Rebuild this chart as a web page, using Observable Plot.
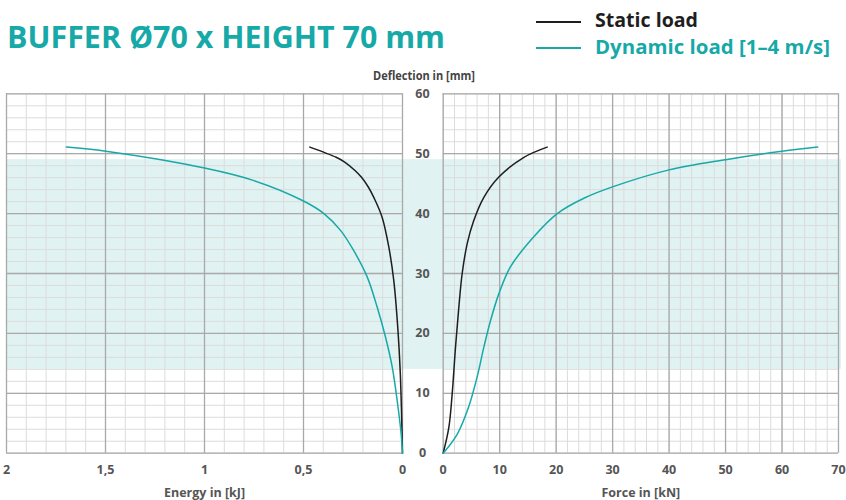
<!DOCTYPE html>
<html><head><meta charset="utf-8">
<script src="https://cdn.jsdelivr.net/npm/d3@7"></script>
<script src="https://cdn.jsdelivr.net/npm/@observablehq/plot@0.6"></script>
<style>
body{margin:0;background:#fff;font-family:"Open Sans",sans-serif}
#wrap{position:relative;width:846px;height:500px;overflow:hidden}
#wrap svg{position:absolute;top:0}
.t{position:absolute;white-space:nowrap;font-weight:700;transform-origin:0 0;line-height:1}
.lg{position:absolute;height:2px;width:45px}
</style></head><body><div id="wrap"></div>
<script>
// ---- data ----
const titleText = "BUFFER Ø70 x HEIGHT 70 mm";
const seriesNames = ["Static load", "Dynamic load [1–4 m/s]"];
const deflTicks = [0, 10, 20, 30, 40, 50, 60];
const energyTicks = [2, 1.5, 1, 0.5, 0];
const forceTicks = [0, 10, 20, 30, 40, 50, 60, 70];
const bandDefl = [14, 49];

// Static load: energy (kJ) vs deflection (mm)
const staticEnergyDefl = [0, 4.3, 13.2, 21.0, 28.8, 34.4, 39.4, 42.7, 44.4, 46.1, 47.2, 48.6, 49.4, 51.1];
const staticEnergy     = [0, 0.003, 0.011, 0.024, 0.044, 0.069, 0.103, 0.145, 0.172, 0.208, 0.240, 0.292, 0.335, 0.468];
// Dynamic load: energy vs deflection
const dynEnergyDefl = [0, 3.3, 8.8, 14.4, 19.4, 24.4, 29.4, 33.8, 37.2, 40.0, 42.1, 45.5, 47.6, 50.4, 51.1];
const dynEnergy     = [0, 0.007, 0.027, 0.052, 0.086, 0.128, 0.178, 0.246, 0.313, 0.397, 0.5, 0.75, 1.0, 1.498, 1.697];
// Static load: force (kN) vs deflection
const staticForceDefl = [0, 4.3, 9.9, 17.7, 24.4, 30.0, 35.0, 38.8, 42.7, 46.1, 49.4, 51.1];
const staticForce     = [0, 1.0, 1.59, 2.18, 2.77, 3.36, 4.25, 5.4, 7.2, 9.85, 14.3, 18.4];
// Dynamic load: force vs deflection
const dynForceDefl = [0, 3.2, 7.7, 12.7, 17.7, 22.2, 26.6, 31.1, 36.1, 40.0, 42.6, 44.5, 47.3, 49.0, 50.4, 51.1];
const dynForce     = [0, 2.5, 4.5, 6.0, 7.2, 8.4, 9.85, 11.9, 16.0, 20.2, 25.0, 30.1, 40.0, 50.0, 60.0, 66.3];

// ---- styles ----
const TEAL = "#16a9a8", BLACK = "#1e1e1e", BAND = "#e0f2f1";
const MAJOR = "#a9a9a9", MINOR = "#dcdcdc", LABEL = "#555";
const H = 500, MT = 93.3, MB = 47.3;

const pts = (ys, xs) => ys.map((d, i) => ({d, v: xs[i]}));
const minorE = d3.ticks(0, 2, 20), minorF = d3.range(0, 71, 2), minorD = d3.range(0, 61, 2);
const wrap = document.getElementById("wrap");

function gridMarks(minorX, majorX) {
  return [
    Plot.ruleX(minorX, {x: d => d, stroke: MINOR, strokeWidth: 1}),
    Plot.ruleY(minorD, {y: d => d, stroke: MINOR, strokeWidth: 1}),
    Plot.ruleX(majorX, {x: d => d, stroke: MAJOR, strokeWidth: 1.3}),
    Plot.ruleY(deflTicks, {y: d => d, stroke: MAJOR, strokeWidth: 1.3})
  ];
}
const common = {
  height: H, marginTop: MT, marginBottom: MB,
  y: {domain: [0, 60], axis: null},
  style: {fontFamily: "'Open Sans', sans-serif", fontWeight: 700, fontSize: "12px", color: LABEL, background: "transparent", overflow: "visible"}
};
const lineOpts = (stroke) => ({x: "v", y: "d", stroke, strokeWidth: 1.5, curve: "catmull-rom"});

const left = Plot.plot({
  ...common, width: 442, marginLeft: 6, marginRight: 40,
  x: {domain: [2, 0]},
  marks: [
    Plot.rect([bandDefl], {y1: d => d[0], y2: d => d[1], fill: BAND, insetRight: -41}),
    ...gridMarks(minorE, energyTicks),
    Plot.line(pts(staticEnergyDefl, staticEnergy), lineOpts(BLACK)),
    Plot.line(pts(dynEnergyDefl, dynEnergy), lineOpts(TEAL)),
    Plot.text(deflTicks, {y: d => d, text: d => String(d), frameAnchor: "right", dx: 20, textAnchor: "middle", fill: LABEL, fontSize: 12.5, fontWeight: 700}),
    Plot.axisX({ticks: energyTicks, tickFormat: d => String(d).replace(".", ","), tickSize: 0, tickPadding: 12,
      label: "Energy in [kJ]", labelAnchor: "center", labelArrow: "none", labelOffset: 44, fontSize: 12.5})
  ]
});
left.style.left = "0px";
wrap.appendChild(left);

const right = Plot.plot({
  ...common, width: 404, marginLeft: 0.7, marginRight: 8,
  x: {domain: [0, 70]},
  marks: [
    Plot.rect([bandDefl], {y1: d => d[0], y2: d => d[1], fill: BAND, insetRight: -3}),
    ...gridMarks(minorF, forceTicks),
    Plot.line(pts(staticForceDefl, staticForce), lineOpts(BLACK)),
    Plot.line(pts(dynForceDefl, dynForce), lineOpts(TEAL)),
    Plot.axisX({ticks: forceTicks, tickSize: 0, tickPadding: 12,
      label: "Force in [kN]", labelAnchor: "center", labelArrow: "none", labelOffset: 44, fontSize: 12.5})
  ]
});
right.style.left = "442px";
wrap.appendChild(right);

// ---- overlays: title, legend, y-axis title ----
function addText(txt, x, y, size, color, targetW) {
  const el = document.createElement("div");
  el.className = "t";
  el.textContent = txt;
  el.style.left = x + "px"; el.style.top = y + "px";
  el.style.fontSize = size + "px"; el.style.color = color;
  wrap.appendChild(el);
  if (targetW) {
    const w = el.getBoundingClientRect().width;
    el.style.transform = `scaleX(${targetW / w})`;
  }
  return el;
}
addText(titleText, 7, 22, 29.5, TEAL, 438);
addText(seriesNames[0], 595, 9.5, 19.5, BLACK, 103);
addText(seriesNames[1], 595, 37, 19.5, TEAL, 235);
[[BLACK, 22], [TEAL, 48]].forEach(([c, y]) => {
  const l = document.createElement("div");
  l.className = "lg"; l.style.background = c; l.style.left = "536px"; l.style.top = (y - 1) + "px";
  wrap.appendChild(l);
});
addText("Deflection in [mm]", 373, 70, 12, "#444", 102);
</script></body></html>
